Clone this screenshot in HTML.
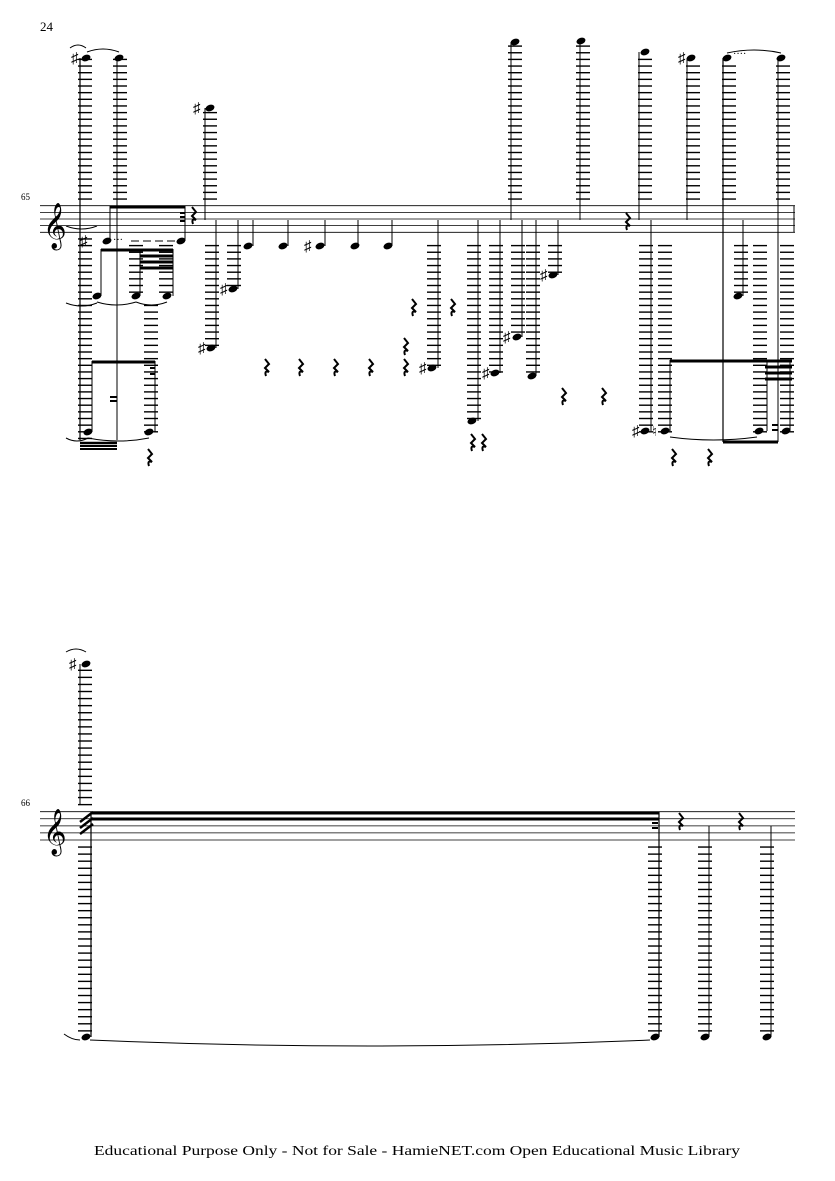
<!DOCTYPE html>
<html><head><meta charset="utf-8"><style>
html,body{margin:0;padding:0;background:#fff}
svg{display:block}
text{font-family:"Liberation Serif",serif}
</style></head><body>
<svg id="s" width="835" height="1181" viewBox="0 0 835 1181" xmlns="http://www.w3.org/2000/svg">
<text x="40" y="31" font-size="13">24</text>
<text x="21" y="200" font-size="9">65</text>
<text x="21" y="806" font-size="9">66</text>
<text x="94" y="1155" font-size="14" textLength="646" lengthAdjust="spacingAndGlyphs">Educational Purpose Only - Not for Sale - HamieNET.com Open Educational Music Library</text>
<g id="g" stroke="#000" fill="#000"></g>
</svg>
<script>
var g=document.getElementById('g'),o='';
function L(a,b,c,d,w){o+='<line x1="'+a+'" y1="'+b+'" x2="'+c+'" y2="'+d+'" stroke-width="'+(w||1)+'"/>';}
function H(x,y){o+='<ellipse cx="'+x+'" cy="'+y+'" rx="4.6" ry="3.2" transform="rotate(-20 '+x+' '+y+')" stroke="none"/>';}
function S(x,y){o+='<text x="'+(x-4)+'" y="'+(y+5)+'" font-size="15" stroke="none">♯</text>';}
function N(x,y){o+='<text x="'+(x-3)+'" y="'+(y+5)+'" font-size="14" stroke="none">♮</text>';}
function R(x,y){o+='<path d="M'+(x-1)+' '+(y-9)+' l4 5 l-4 4 l4 4 q-5 -2 -3 4" fill="none" stroke-width="2"/>';}
function T(a,b,y,up){var d=up?-6:6;o+='<path d="M'+a+' '+y+' Q'+((a+b)/2)+' '+(y+d)+' '+b+' '+y+'" fill="none" stroke-width="1"/>';}
function staff(T0,s,x1,x2){for(var i=0;i<5;i++)L(x1,T0+i*s,x2,T0+i*s,0.8);}
function LG(xc,y1,y2,T0,s){var B=T0+4*s;for(var k=1;k<80;k++){var y=T0-k*s;if(y>=y1-1&&y<=y2+1)L(xc-7,y,xc+7,y,1.4);y=B+k*s;if(y>=y1-1&&y<=y2+1)L(xc-7,y,xc+7,y,1.4);}}
function clef(x,y){o+='<text x="'+x+'" y="'+y+'" font-size="40" stroke="none" font-family="DejaVu Sans">𝄞</text>';}
var t1=205.7,s1=6.65;
staff(t1,s1,40,795);L(794,t1,794,t1+4*s1,1);
clef(43,239);
LG(85,60,440,t1,s1);H(86,58);S(75,58);L(80,58,80,440,1.2);
LG(120,60,200,t1,s1);H(119,58);L(117,58,117,440,1);
T(87,119,52,true);T(70,86,48,true);
S(84,241);H(107,241);H(181,241);L(110,241,110,206,1);L(185,241,185,206,1);L(110,207,185,207,3);
L(180,213,185,213,2);L(180,217,185,217,2);L(180,221,185,221,2);R(193,216);
o+='<text x="113" y="243" font-size="10" stroke="none">···</text>';
for(var xx=131;xx<178;xx+=12)L(xx,241,xx+8,241,1);
LG(136,240,296,t1,s1);LG(166,240,296,t1,s1);
H(97,296);H(136,296);H(167,296);
L(101,296,101,249,1);L(140,296,140,249,1);L(173,296,173,249,1);
L(101,250,173,250,3);L(140,256,173,256,3);L(140,262,173,262,3);L(140,268,173,268,3);
T(66,97,303,false);T(97,136,302,false);T(136,167,302,false);
T(66,97,226,false);
LG(151,303,432,t1,s1);
H(88,432);H(149,432);L(92,432,92,361,1);L(155,432,155,361,1);L(92,362,155,362,3);L(150,368,155,368,2);L(150,374,155,374,2);
L(80,443,117,443,2.5);L(80,446,117,446,2);L(80,449,117,449,2);L(110,397,117,397,2);L(110,401,117,401,2);
T(66,88,438,false);T(88,149,438,false);R(149,458);
LG(210,112,200,t1,s1);S(197,108);H(210,108);L(205,108,205,220,1);
LG(212,240,345,t1,s1);S(202,348);H(211,348);L(216,220,216,348,1);
LG(234,240,288,t1,s1);S(224,289);H(233,289);L(238,220,238,289,1);
[[248,253],[283,288],[320,325],[355,358],[388,392]].forEach(function(a){H(a[0],246);L(a[1],220,a[1],246,1);});
S(308,246);
[266,300,335,370,405].forEach(function(x){R(x,368);});
LG(434,240,368,t1,s1);S(423,368);H(432,368);L(438,220,438,368,1);
LG(474,240,421,t1,s1);H(472,421);L(478,220,478,421,1);
LG(496,240,373,t1,s1);S(486,373);H(495,373);L(500,220,500,373,1);
LG(518,240,337,t1,s1);S(507,337);H(517,337);L(522,220,522,337,1);
LG(533,240,376,t1,s1);H(532,376);L(536,220,536,376,1);
LG(555,240,275,t1,s1);S(544,275);H(553,275);L(558,220,558,275,1);
[[413,308],[452,308],[405,347],[563,397],[603,397],[472,443],[483,443]].forEach(function(a){R(a[0],a[1]);});
LG(515,46,200,t1,s1);H(515,42);L(511,42,511,220,1);
LG(583,46,200,t1,s1);H(581,41);L(580,41,580,220,1);
LG(645,56,200,t1,s1);H(645,52);L(639,52,639,220,1);
LG(693,62,200,t1,s1);S(682,58);H(691,58);L(687,58,687,220,1);
LG(729,62,200,t1,s1);H(727,58);L(723,58,723,442,1.2);
LG(783,62,200,t1,s1);H(781,58);L(778,58,778,442,1);
o+='<text x="733" y="57" font-size="10" stroke="none">····</text>';T(727,781,53,true);
R(627,222);
LG(646,240,431,t1,s1);S(636,431);H(645,431);L(651,220,651,431,1);
LG(665,240,431,t1,s1);N(655,431);H(665,431);L(670,431,670,360,1);
L(670,361,792,361,3);L(765,367,792,367,3);L(765,373,792,373,3);L(765,379,792,379,3);
LG(741,240,296,t1,s1);H(738,296);L(743,220,743,296,1);
LG(760,240,431,t1,s1);H(759,431);L(767,431,767,361,1);
LG(787,240,431,t1,s1);H(786,431);L(790,431,790,361,1);
L(723,442,778,442,3);T(670,757,437,false);L(772,425,778,425,2);L(772,430,778,430,2);
R(673,458);R(709,458);
var t2=811.7,s2=7.07;
staff(t2,s2,40,795);
clef(43,845);
LG(85,670,1030,t2,s2);S(73,664);H(86,664);L(80,664,80,805,1);T(66,86,652,true);
L(80,822,93,812,2.5);L(80,828,93,818,2.5);L(80,834,93,824,2.5);
L(91,812,91,1037,1.2);H(86,1037);
L(91,813,659,813,3);L(91,819,659,819,3);
LG(655,846,1030,t2,s2);H(655,1037);L(659,812,659,1037,1.2);L(652,823,658,823,2);L(652,828,658,828,2);
LG(705,846,1030,t2,s2);H(705,1037);L(709,826,709,1037,1);
LG(767,846,1030,t2,s2);H(767,1037);L(771,826,771,1037,1);
R(680,822);R(740,822);
o+='<path d="M90 1040 Q370 1052 650 1040" fill="none" stroke-width="1"/>';
o+='<path d="M64 1034 Q72 1040 80 1040" fill="none" stroke-width="1"/>';
g.innerHTML=o;
</script>
</body></html>
